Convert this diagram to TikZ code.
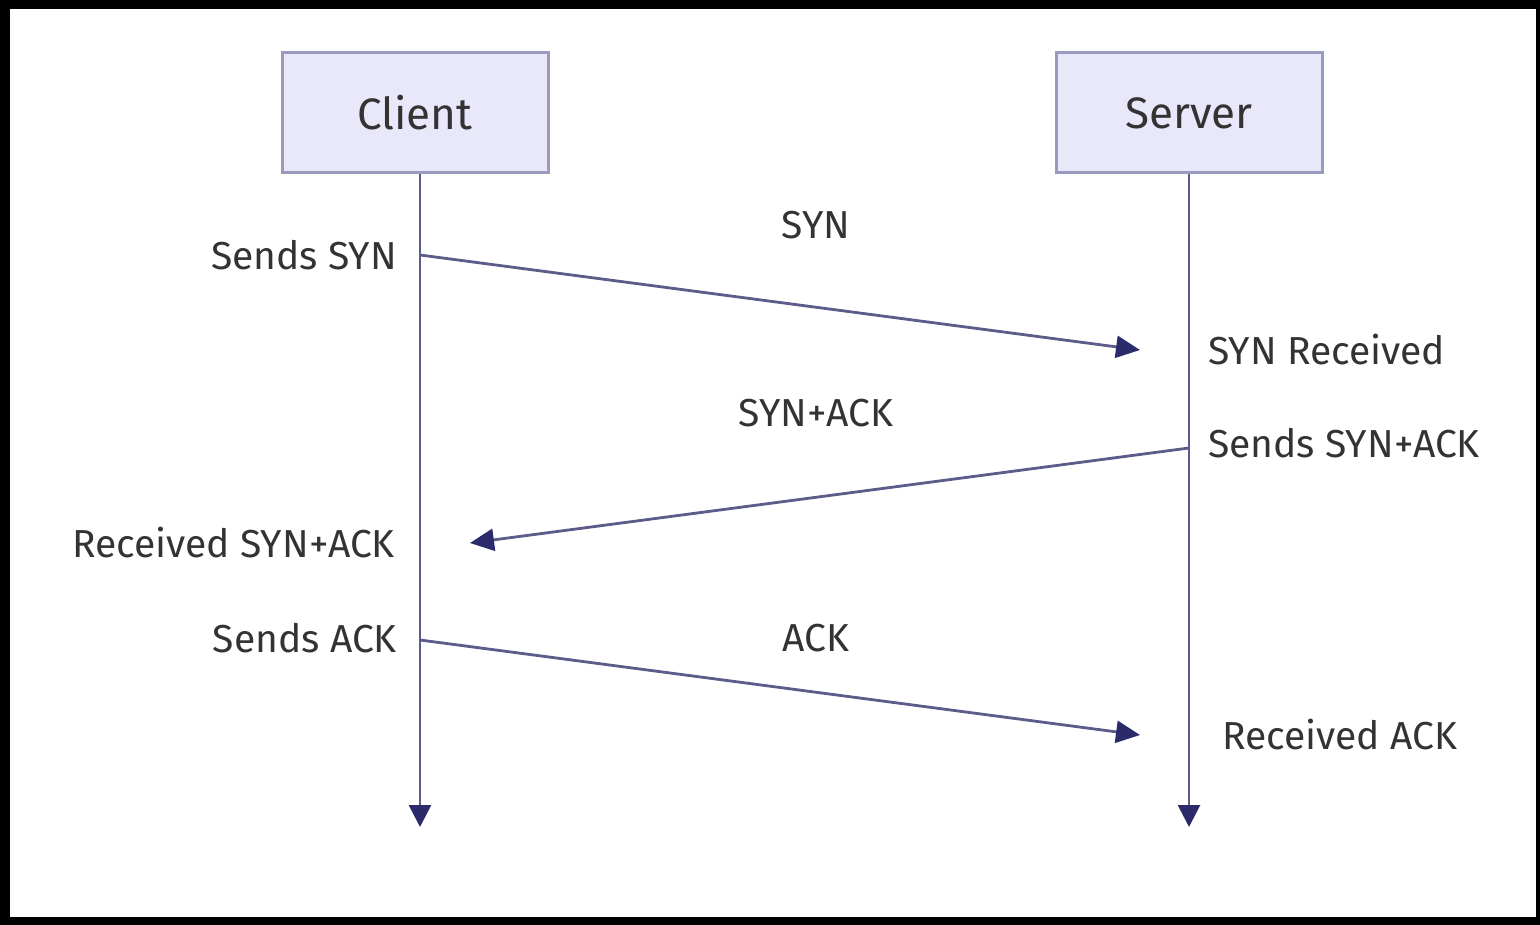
\documentclass[tikz,border=0pt]{standalone}
\usepackage{fontspec}
\setmainfont{Fira Sans}
\usetikzlibrary{arrows.meta}
\definecolor{boxfill}{HTML}{E8E8FA}
\definecolor{boxline}{HTML}{9A9ABF}
\definecolor{lineC}{HTML}{5C5C8A}
\definecolor{tipC}{HTML}{2B2B6B}
\definecolor{txt}{HTML}{333333}
\tikzset{
  actor/.style={draw=boxline, line width=3pt, fill=boxfill, minimum width=266pt, minimum height=120pt, inner sep=0pt, text=txt, font=\fontsize{44}{50}\selectfont},
  lbl/.style={text=txt, font=\fontsize{39}{44}\selectfont, inner sep=0pt},
  life/.style={draw=lineC, line width=2.8pt, -{Triangle[length=22pt,width=22pt,color=tipC]}},
  msg/.style={draw=lineC, line width=2.8pt, -{Triangle[length=24pt,width=22pt,color=tipC]}}
}
\begin{document}
\begin{tikzpicture}[x=1pt,y=-1pt]
\useasboundingbox (0,0) rectangle (1540,925);
\fill[black] (0,0) rectangle (1540,925);
\fill[white] (10,9) rectangle (1536,917);
\node[actor] (client) at (415,113) {Client};
\node[actor] (server) at (1189,113) {Server};
\coordinate (cend) at (420,827);
\coordinate (send) at (1189,827);
\draw[life] (client.south -| cend) -- (cend);
\draw[life] (server.south) -- (send);
\coordinate (c1) at (420,255);
\coordinate (s1) at (1140,350);
\coordinate (s2) at (1189,448);
\coordinate (c2) at (470,543);
\coordinate (c3) at (420,640);
\coordinate (s3) at (1140,735);
\draw[msg] (c1) -- (s1);
\draw[msg] (s2) -- (c2);
\draw[msg] (c3) -- (s3);
\node[lbl] (l1) at (816,225) {SYN};
\node[lbl] (l2) at (816,413) {SYN+ACK};
\node[lbl] (l3) at (816,638) {ACK};
\node[lbl, anchor=east] (a1) at (397,255) {Sends SYN};
\node[lbl, anchor=west] (b1) at (1208,350) {SYN Received};
\node[lbl, anchor=west] (b2) at (1208,443) {Sends SYN+ACK};
\node[lbl, anchor=east] (a2) at (395,543) {Received SYN+ACK};
\node[lbl, anchor=east] (a3) at (397,638) {Sends ACK};
\node[lbl, anchor=west] (b3) at (1222,735) {Received ACK};
\end{tikzpicture}
\end{document}
